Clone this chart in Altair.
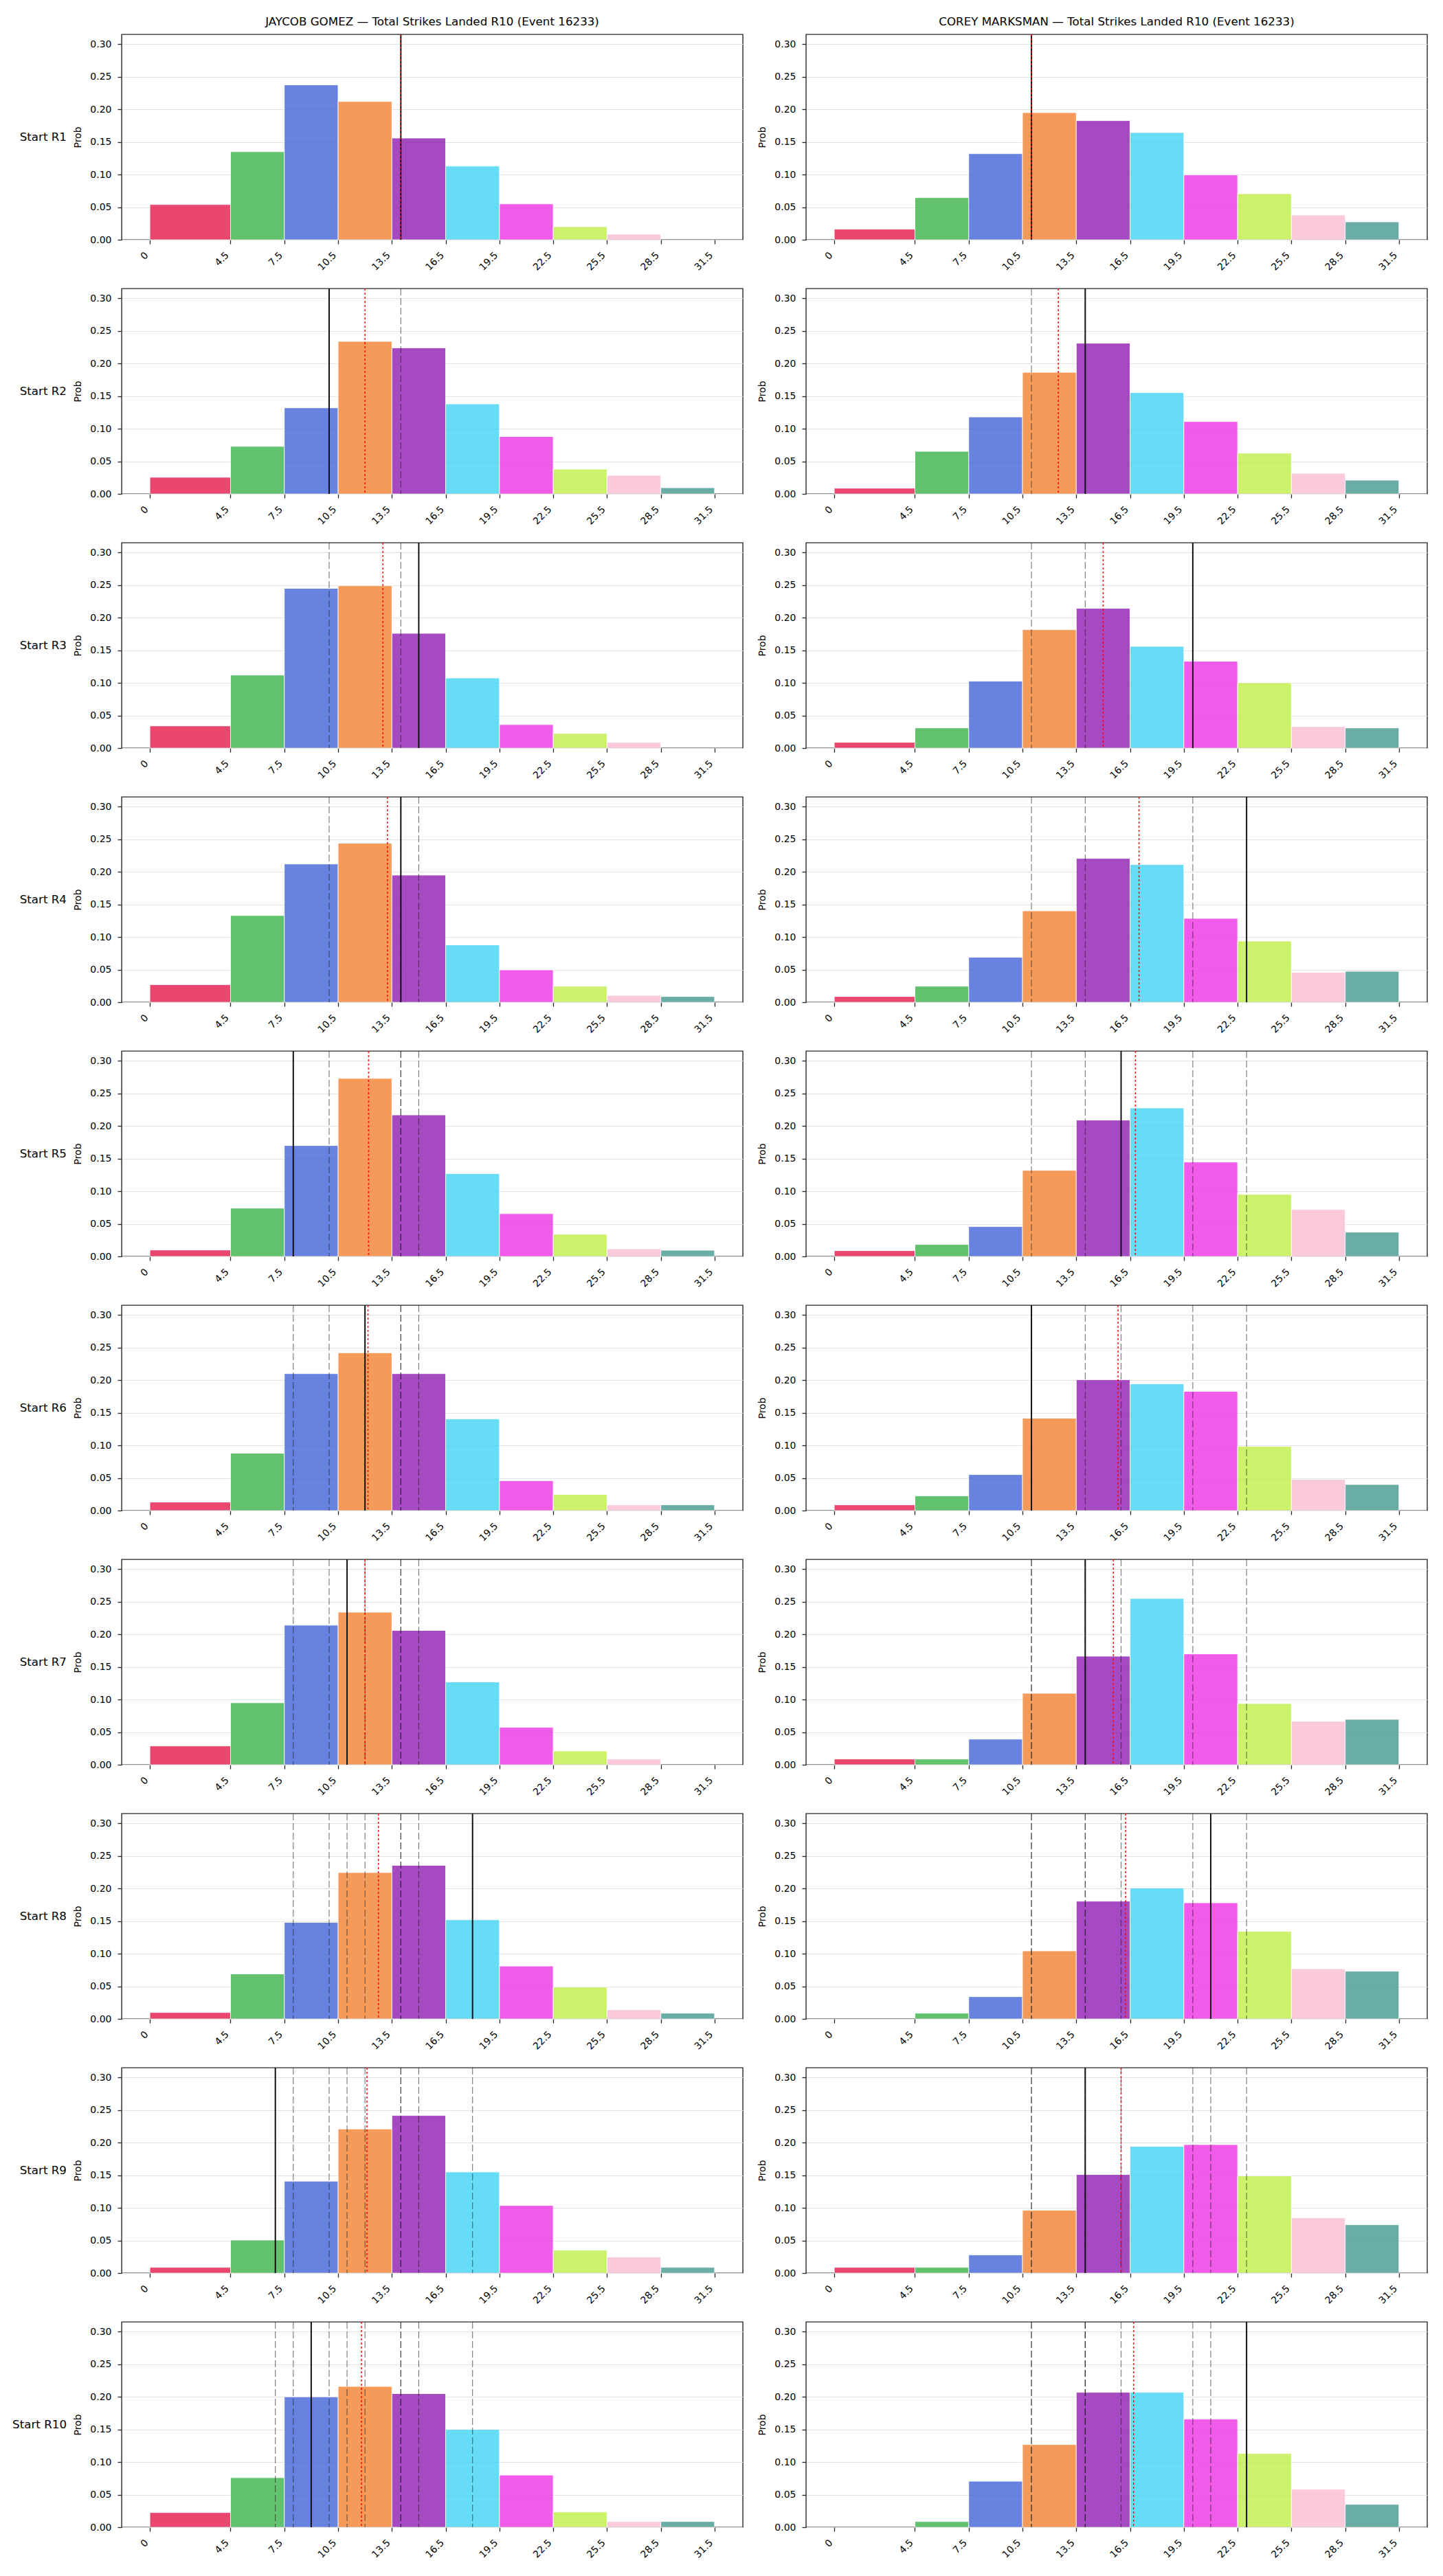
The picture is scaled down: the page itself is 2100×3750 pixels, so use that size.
import altair as alt
import pandas as pd

# ---------------- data ----------------
bin_edges = [0, 4.5, 7.5, 10.5, 13.5, 16.5, 19.5, 22.5, 25.5, 28.5, 31.5]
tick_labels = ["0", "4.5", "7.5", "10.5", "13.5", "16.5", "19.5", "22.5", "25.5", "28.5", "31.5"]
bin_colors = ["#e6194B", "#3cb44b", "#4363d8", "#f58231", "#911eb4",
              "#42d4f4", "#f032e6", "#bfef45", "#fabed4", "#469990"]
fighters = ["JAYCOB GOMEZ", "COREY MARKSMAN"]
title_suffix = " \u2014 Total Strikes Landed R10 (Event 16233)"
row_labels = ["Start R1", "Start R2", "Start R3", "Start R4", "Start R5",
              "Start R6", "Start R7", "Start R8", "Start R9", "Start R10"]
y_ticks = [0.0, 0.05, 0.10, 0.15, 0.20, 0.25, 0.30]

gomez_probs = [
    [0.054, 0.135, 0.2375, 0.212, 0.156, 0.113, 0.055, 0.020, 0.0085, 0.0],
    [0.0255, 0.073, 0.132, 0.234, 0.224, 0.138, 0.088, 0.038, 0.0285, 0.0095],
    [0.034, 0.112, 0.245, 0.249, 0.176, 0.1075, 0.036, 0.0225, 0.0088, 0.0],
    [0.027, 0.133, 0.212, 0.244, 0.195, 0.088, 0.0495, 0.0245, 0.0105, 0.0088],
    [0.0098, 0.074, 0.170, 0.273, 0.217, 0.127, 0.0655, 0.034, 0.0116, 0.0095],
    [0.013, 0.088, 0.210, 0.242, 0.210, 0.1405, 0.0457, 0.0246, 0.0088, 0.0088],
    [0.0288, 0.095, 0.214, 0.234, 0.206, 0.127, 0.0573, 0.0211, 0.0088, 0.0],
    [0.0098, 0.069, 0.148, 0.2245, 0.2355, 0.152, 0.081, 0.0488, 0.014, 0.0088],
    [0.0088, 0.0506, 0.141, 0.221, 0.2417, 0.155, 0.1036, 0.035, 0.0246, 0.0088],
    [0.0225, 0.076, 0.200, 0.216, 0.205, 0.150, 0.080, 0.0235, 0.0088, 0.0088],
]
marksman_probs = [
    [0.0162, 0.0646, 0.132, 0.195, 0.1827, 0.1644, 0.0994, 0.0706, 0.0379, 0.0274],
    [0.0088, 0.0653, 0.118, 0.1865, 0.2312, 0.1553, 0.111, 0.0625, 0.0316, 0.0211],
    [0.0088, 0.0309, 0.1026, 0.1816, 0.2143, 0.156, 0.1331, 0.1001, 0.033, 0.0309],
    [0.0088, 0.0246, 0.0689, 0.1402, 0.2206, 0.2111, 0.1286, 0.0938, 0.0457, 0.0474],
    [0.0088, 0.0183, 0.0457, 0.132, 0.209, 0.2276, 0.1447, 0.0952, 0.072, 0.0372],
    [0.0088, 0.0225, 0.0552, 0.1416, 0.2006, 0.1943, 0.1827, 0.0984, 0.0478, 0.040],
    [0.0088, 0.0088, 0.0393, 0.1096, 0.1665, 0.255, 0.170, 0.0938, 0.0667, 0.0696],
    [0.0, 0.0088, 0.0341, 0.1043, 0.1806, 0.2006, 0.1781, 0.1342, 0.0769, 0.0731],
    [0.0088, 0.0088, 0.0278, 0.0963, 0.1511, 0.1943, 0.1971, 0.149, 0.0847, 0.0741],
    [0.0, 0.0088, 0.0706, 0.1268, 0.2069, 0.2069, 0.1658, 0.1131, 0.0583, 0.0351],
]

# solid black line per start round, and red dotted running-mean line
gomez_line = [14, 10, 15, 14, 8, 12, 11, 18, 7, 9]
marksman_line = [11, 14, 20, 23, 16, 11, 14, 21, 14, 23]
gomez_mean = [14, 12, 13, 13.25, 12.2, 12.17, 12.0, 12.75, 12.11, 11.8]
marksman_mean = [11, 12.5, 15, 17, 16.8, 15.83, 15.57, 16.25, 16.0, 16.7]

# ---------------- layout constants ----------------
PW, PH = 904, 299
FONT = "DejaVu Sans"

x_scale = alt.Scale(domain=[-1.575, 33.075], nice=False, zero=False)
y_scale = alt.Scale(domain=[0, 0.315], nice=False, zero=False)

label_expr = "datum.value == 0 ? '0' : format(datum.value, '.1f')"
x_axis = alt.Axis(values=bin_edges, labelExpr=label_expr, labelAngle=-45,
                  labelAlign="right", labelBaseline="bottom", labelPadding=19,
                  labelOverlap=False, grid=False, title=None, tickSize=6,
                  labelFontSize=14)


def X(field):
    return alt.X(field, type="quantitative", scale=x_scale, axis=x_axis)


def panel(probs, line_vals, mean_val, row_idx, title=None, row_label=None):
    df = pd.DataFrame({
        "start": bin_edges[:-1],
        "end": bin_edges[1:],
        "prob": probs,
        "color": bin_colors,
    })
    df["base"] = 0.0
    df = df[df["prob"] > 0]
    bars = alt.Chart(df).mark_rect(opacity=0.8, stroke="white", strokeWidth=1,
                                   strokeOpacity=0.9).encode(
        x=X("start"),
        x2="end:Q",
        y=alt.Y("prob:Q", scale=y_scale,
                axis=alt.Axis(values=y_ticks, format=".2f", title="Prob",
                              titleX=-64, titleY=PH / 2, titleAngle=-90,
                              titleAlign="center", titleBaseline="middle",
                              tickSize=6, labelPadding=9, labelFontSize=14,
                              grid=True)),
        y2="base:Q",
        color=alt.Color("color:N", scale=None, legend=None),
    )
    layers = [bars]
    prev = line_vals[:row_idx]
    if prev:
        dashed = alt.Chart(pd.DataFrame({"v": prev})).mark_rule(
            color="#1a1a1a", strokeWidth=1.1, strokeDash=[10, 4], opacity=0.6
        ).encode(x=X("v"))
        layers.append(dashed)
    solid = alt.Chart(pd.DataFrame({"v": [line_vals[row_idx]]})).mark_rule(
        color="#111111", strokeWidth=2
    ).encode(x=X("v"))
    dotted = alt.Chart(pd.DataFrame({"v": [mean_val]})).mark_rule(
        color="#ff0000", strokeWidth=1.6, strokeDash=[3, 3], opacity=0.9
    ).encode(x=X("v"))
    layers += [solid, dotted]
    if row_label is not None:
        lab = alt.Chart(pd.DataFrame({"t": [row_label]})).mark_text(
            align="right", baseline="middle", fontSize=16.7, font=FONT, color="black"
        ).encode(x=alt.value(-80), y=alt.value(PH / 2), text="t:N")
        layers.append(lab)
    ch = alt.layer(*layers).properties(width=PW, height=PH)
    if title is not None:
        ch = ch.properties(title=alt.TitleParams(
            text=title, fontSize=16.7, font=FONT, fontWeight="normal",
            color="black", anchor="middle", offset=8))
    return ch


panels = []
for i in range(10):
    t0 = fighters[0] + title_suffix if i == 0 else None
    t1 = fighters[1] + title_suffix if i == 0 else None
    panels.append(panel(gomez_probs[i], gomez_line, gomez_mean[i], i, t0, row_labels[i]))
    panels.append(panel(marksman_probs[i], marksman_line, marksman_mean[i], i, t1, None))

chart = alt.ConcatChart(
    concat=panels, columns=2,
    spacing={"row": 71, "column": 92},
    bounds="flush",
).properties(
    autosize=alt.AutoSizeParams(type="none"),
    padding={"left": 177, "top": 50, "right": 2100 - 177, "bottom": 3740 - 50},
).configure(
    font=FONT,
).configure_view(
    stroke="#262626", strokeWidth=1.4
).configure_axis(
    labelFont=FONT, titleFont=FONT, labelColor="black", titleColor="black",
    titleFontWeight="normal", titleFontSize=14, domain=False,
    tickColor="#262626", tickWidth=1.3, gridColor="#e3e3e3", gridWidth=1,
)

chart.save("out.html", embed_options={"renderer": "svg", "actions": False})
